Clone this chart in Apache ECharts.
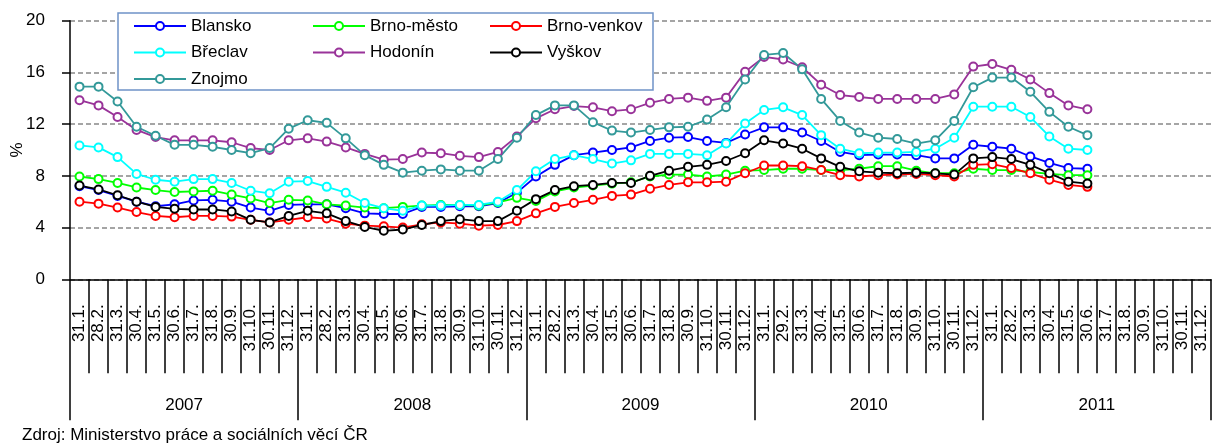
<!DOCTYPE html>
<html>
<head>
<meta charset="utf-8">
<title>Nezaměstnanost - Jihomoravský kraj</title>
<script src="https://cdn.jsdelivr.net/npm/echarts/dist/echarts.min.js"></script>
<style>
  html, body { margin: 0; padding: 0; background: #fff; }
  #chart { width: 1213px; height: 446px; }
</style>
</head>
<body>
<div id="chart"></div>
<script>
// popisky osy x (konce mesicu), unor se v kazdem roce lisi
var monthLabels = ['31.1.', '28.2.', '31.3.', '30.4.', '31.5.', '30.6.', '31.7.', '31.8.', '30.9.', '31.10.', '30.11.', '31.12.'];
var febLabels = ['28.2.', '28.2.', '28.2.', '29.2.', '28.2.'];
var years = ['2007', '2008', '2009', '2010', '2011'];

// hodnoty v %, leden 2007 - cerven 2011
var blansko = [7.2, 6.9, 6.45, 6.0, 5.65, 5.8, 6.1, 6.15, 6.0, 5.55, 5.3, 5.75,
  5.8, 5.8, 5.5, 5.1, 5.05, 5.05, 5.6, 5.6, 5.65, 5.65, 5.9, 6.7,
  7.95, 8.85, 9.6, 9.8, 10.0, 10.2, 10.7, 10.95, 11.0, 10.7, 10.55, 11.2,
  11.75, 11.75, 11.35, 10.7, 9.85, 9.6, 9.65, 9.65, 9.6, 9.35, 9.35, 10.4,
  10.25, 10.1, 9.5, 9.0, 8.6, 8.55];
var brnoMesto = [7.95, 7.75, 7.45, 7.1, 6.9, 6.75, 6.8, 6.85, 6.55, 6.25, 5.9, 6.15,
  6.1, 5.8, 5.7, 5.55, 5.5, 5.6, 5.7, 5.75, 5.75, 5.7, 5.95, 6.3,
  6.05, 6.8, 7.1, 7.25, 7.4, 7.5, 7.95, 8.1, 8.1, 7.95, 8.1, 8.4,
  8.45, 8.55, 8.55, 8.45, 8.45, 8.55, 8.75, 8.75, 8.4, 8.2, 8.2, 8.55,
  8.45, 8.45, 8.3, 8.15, 8.05, 8.05];
var brnoVenkov = [6.0, 5.85, 5.55, 5.2, 4.9, 4.8, 4.9, 4.9, 4.85, 4.6, 4.4, 4.6,
  4.8, 4.7, 4.3, 4.15, 4.1, 4.0, 4.25, 4.4, 4.3, 4.15, 4.2, 4.5,
  5.1, 5.6, 5.9, 6.15, 6.45, 6.55, 7.0, 7.3, 7.5, 7.5, 7.55, 8.2,
  8.8, 8.8, 8.75, 8.45, 8.05, 7.95, 8.05, 8.1, 8.15, 8.05, 7.95, 8.85,
  8.9, 8.6, 8.2, 7.7, 7.3, 7.15];
var breclav = [10.35, 10.2, 9.45, 8.15, 7.7, 7.55, 7.75, 7.75, 7.45, 6.85, 6.65, 7.55,
  7.6, 7.15, 6.7, 5.9, 5.5, 5.3, 5.7, 5.7, 5.75, 5.75, 6.0, 6.9,
  8.35, 9.3, 9.6, 9.3, 8.95, 9.2, 9.7, 9.7, 9.7, 9.6, 10.5, 12.05,
  13.1, 13.3, 12.7, 11.15, 10.1, 9.75, 9.8, 9.8, 9.85, 10.1, 10.95, 13.35,
  13.35, 13.35, 12.55, 11.05, 10.1, 10.0];
var hodonin = [13.85, 13.45, 12.55, 11.55, 11.0, 10.75, 10.75, 10.75, 10.6, 10.15, 10.0, 10.75,
  10.9, 10.65, 10.2, 9.7, 9.25, 9.3, 9.8, 9.75, 9.55, 9.45, 9.85, 11.05,
  12.45, 13.15, 13.4, 13.3, 13.0, 13.15, 13.65, 13.95, 14.05, 13.8, 14.05, 16.05,
  17.2, 17.0, 16.4, 15.05, 14.25, 14.1, 13.95, 13.95, 13.95, 13.95, 14.3, 16.45,
  16.65, 16.2, 15.45, 14.4, 13.45, 13.15];
var vyskov = [7.25, 6.95, 6.5, 6.0, 5.6, 5.45, 5.4, 5.4, 5.25, 4.6, 4.4, 4.9,
  5.3, 5.1, 4.5, 4.05, 3.75, 3.85, 4.2, 4.5, 4.65, 4.5, 4.5, 5.3,
  6.2, 6.9, 7.2, 7.3, 7.45, 7.45, 8.0, 8.4, 8.7, 8.85, 9.15, 9.75,
  10.75, 10.5, 10.1, 9.35, 8.7, 8.35, 8.25, 8.2, 8.25, 8.2, 8.1, 9.35,
  9.45, 9.3, 8.85, 8.2, 7.55, 7.4];
var znojmo = [14.9, 14.9, 13.75, 11.8, 11.1, 10.4, 10.4, 10.25, 10.0, 9.75, 10.15, 11.65,
  12.3, 12.1, 10.9, 9.6, 8.85, 8.25, 8.4, 8.5, 8.4, 8.4, 9.3, 10.95,
  12.7, 13.45, 13.45, 12.15, 11.5, 11.35, 11.55, 11.75, 11.8, 12.35, 13.3, 15.45,
  17.35, 17.5, 16.25, 13.95, 12.25, 11.35, 10.95, 10.85, 10.5, 10.75, 12.25, 14.85,
  15.6, 15.6, 14.5, 12.95, 11.8, 11.15];

// kategorie: 12 mesicu pro kazdy rok
var dates = [];
for (var y = 0; y < years.length; y++) {
  for (var m = 0; m < 12; m++) {
    dates.push(m === 1 ? febLabels[y] : monthLabels[m]);
  }
}

var font = "'Liberation Sans', Arial, sans-serif";

function line(name, color, data) {
  return {
    name: name,
    type: 'line',
    data: data,
    symbol: 'emptyCircle',
    symbolSize: 8,
    color: color,
    lineStyle: { color: color, width: 1.8 },
    itemStyle: { color: color, borderColor: color, borderWidth: 1.5 },
    animation: false
  };
}

var chart = echarts.init(document.getElementById('chart'));
chart.setOption({
  animation: false,
  grid: { left: 70, right: 2, top: 20.7, bottom: 166.7, outerBoundsMode: 'none' },
  // legenda ve trech sloupcich
  legend: [
    { data: ['Blansko', 'Břeclav', 'Znojmo'], left: 128 },
    { data: ['Brno-město', 'Hodonín'], left: 307 },
    { data: ['Brno-venkov', 'Vyškov'], left: 484 }
  ].map(function (l) {
    return Object.assign({
      orient: 'vertical',
      top: 12.5,
      itemWidth: 52,
      itemHeight: 10,
      itemGap: 9.5,
      textStyle: { fontSize: 17, lineHeight: 17, color: '#000', fontFamily: font }
    }, l);
  }),
  graphic: [
    {
      type: 'rect',
      z: 3,
      shape: { x: 118, y: 13, width: 535, height: 77 },
      style: { fill: '#fff', stroke: '#6f93c7', lineWidth: 1.5 }
    },
    {
      type: 'text',
      left: 22,
      top: 427,
      style: { text: 'Zdroj: Ministerstvo práce a sociálních věcí ČR', font: '17px ' + font, fill: '#000' }
    }
  ],
  xAxis: [
    {
      type: 'category',
      data: dates,
      position: 'bottom',
      axisLine: { show: true, lineStyle: { color: '#000', width: 1.5 } },
      axisTick: { show: true, length: 94, interval: 0, lineStyle: { color: '#000', width: 1.5 } },
      axisLabel: { interval: 0, rotate: 90, margin: 25, fontSize: 17, color: '#000', fontFamily: font }
    },
    {
      type: 'category',
      data: years,
      position: 'bottom',
      offset: 0,
      axisLine: { show: false },
      axisTick: { show: true, length: 141, interval: 0, lineStyle: { color: '#000', width: 1.5 } },
      axisLabel: { interval: 0, margin: 118, fontSize: 17, color: '#000', fontFamily: font }
    }
  ],
  yAxis: {
    type: 'value',
    min: 0,
    max: 20,
    interval: 4,
    name: '%',
    nameLocation: 'middle',
    nameRotate: 90,
    nameGap: 44,
    nameMoveOverlap: false,
    nameTextStyle: { fontSize: 17, color: '#000', fontFamily: font },
    axisLine: { show: true, lineStyle: { color: '#000', width: 1.5 } },
    axisTick: { show: true, length: 8, lineStyle: { color: '#000', width: 1.5 } },
    axisLabel: { margin: 25, fontSize: 17, color: '#000', fontFamily: font },
    splitLine: { lineStyle: { color: '#888', type: [5, 3], width: 1.5 } }
  },
  series: [
    line('Blansko', '#0000ff', blansko),
    line('Brno-město', '#00ff00', brnoMesto),
    line('Brno-venkov', '#ff0000', brnoVenkov),
    line('Břeclav', '#00ffff', breclav),
    line('Hodonín', '#993399', hodonin),
    line('Vyškov', '#000000', vyskov),
    line('Znojmo', '#339999', znojmo)
  ]
});
</script>
</body>
</html>
